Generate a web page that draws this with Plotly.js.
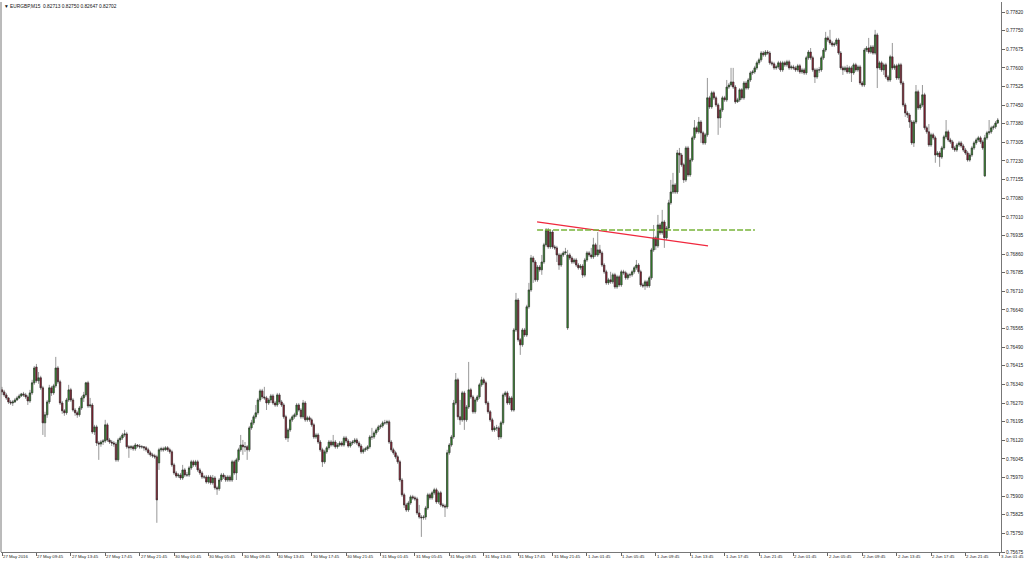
<!DOCTYPE html>
<html>
<head>
<meta charset="utf-8">
<script src="https://cdn.plot.ly/plotly-3.0.1.min.js"></script>
<style>
  html, body { margin: 0; padding: 0; background: #fff; }
  #chart { width: 1024px; height: 561px; }
</style>
</head>
<body>
<div id="chart"></div>
<script>
// EURGBP M15 bars, prices in points (1 point = 0.00001), one row = 16 bars = 4 hours
const openPts = [
  76319,76311,76299,76287,76271,76267,76271,76279,76287,76295,76303,76299,76291,76275,76307,76347,
  76410,76355,76367,76327,76188,76220,76271,76327,76307,76335,76406,76351,76267,76236,76228,76279,
  76319,76279,76239,76228,76220,76247,76287,76299,76347,76255,76259,76152,76172,76108,76104,76112,
  76116,76180,76120,76112,76108,76104,76041,76120,76128,76140,76144,76093,76089,76093,76085,76100,
  76096,76093,76093,76089,76081,76069,76061,76057,76053,76029,76081,76085,76081,76089,76081,76073,
  76021,75989,75977,75981,75969,76001,75981,75981,76009,76033,76021,76033,76001,75989,75973,75973,
  75953,75973,75950,75969,75930,75926,75961,75981,75973,75961,75973,75961,76033,75989,76041,76081,
  76100,76093,76093,76081,76168,76188,76212,76228,76279,76315,76291,76287,76267,76279,76295,76267,
  76259,76299,76271,76259,76212,76128,76160,76200,76212,76220,76259,76239,76212,76267,76200,76208,
  76200,76180,76132,76140,76112,76081,76033,76073,76089,76112,76100,76112,76093,76100,76108,76100,
  76128,76116,76096,76108,76112,76120,76108,76096,76073,76081,76085,76093,76132,76132,76148,76160,
  76172,76176,76188,76188,76192,76112,76081,76069,76053,76033,75961,75902,75862,75842,75870,75894,
  75890,75886,75830,75814,75811,75814,75850,75902,75890,75910,75922,75874,75910,75862,75858,75854,
  76069,76100,76132,76267,76359,76212,76200,76307,76200,76251,76319,76291,76232,76279,76291,76339,
  76359,76347,76267,76232,76200,76160,76168,76168,76132,76188,76299,76307,76267,76287,76239,76557,
  76676,76518,76498,76557,76537,76649,76716,76843,76827,76756,76807,76796,76827,76895,76954,76887,
  76946,76887,76883,76855,76815,76855,76863,76565,76855,76843,76827,76835,76815,76804,76811,76775,
  76835,76863,76855,76847,76895,76855,76875,76863,76815,76788,76744,76756,76748,76776,76728,76768,
  76736,76788,76784,76764,76776,76776,76788,76804,76815,76788,76736,76732,76748,76732,76764,76875,
  76923,76891,76974,76943,76986,76923,76962,77062,77105,77133,77105,77260,77252,77213,77153,77280,
  77173,77232,77320,77360,77344,77383,77340,77300,77332,77479,77443,77499,77479,77451,77399,77431,
  77479,77471,77522,77530,77542,77522,77463,77471,77511,77479,77538,77518,77550,77578,77582,77598,
  77618,77630,77657,77650,77661,77657,77618,77614,77598,77602,77618,77590,77618,77610,77622,77598,
  77602,77598,77590,77606,77582,77590,77578,77638,77661,77638,77590,77562,77590,77590,77638,77669,
  77717,77709,77697,77689,77693,77709,77657,77598,77590,77598,77582,77598,77578,77610,77590,77602,
  77538,77530,77669,77677,77661,77681,77657,77729,77598,77618,77590,77610,77562,77550,77642,77598,
  77606,77558,77610,77538,77451,77419,77411,77383,77300,77383,77503,77439,77451,77491,77360,77344,
  77292,77332,77320,77252,77260,77244,77280,77324,77344,77312,77304,77280,77272,77292,77300,77288,
  77272,77260,77232,77252,77280,77300,77312,77320,77304,77169,77320,77340,77344,77360,77364,77379
];
const highPts = [
  76331,76319,76307,76291,76279,76279,76287,76295,76303,76307,76311,76307,76299,76319,76359,76414,
  76422,76390,76375,76335,76232,76279,76339,76335,76343,76450,76414,76359,76275,76243,76287,76339,
  76327,76287,76247,76236,76255,76295,76311,76351,76355,76287,76267,76180,76180,76116,76120,76124,
  76200,76188,76128,76120,76116,76112,76128,76136,76148,76160,76152,76100,76100,76100,76108,76104,
  76104,76100,76096,76096,76089,76077,76069,76065,76061,76089,76093,76093,76096,76096,76089,76081,
  76029,75997,75989,75989,76021,76009,75993,76017,76041,76041,76041,76041,76009,75997,75981,75981,
  75981,75981,75981,75977,75938,75969,75989,75989,75981,75981,75981,76041,76041,76049,76089,76140,
  76120,76112,76100,76176,76200,76220,76259,76287,76323,76323,76331,76295,76287,76303,76303,76275,
  76307,76307,76279,76267,76220,76168,76208,76220,76228,76267,76267,76247,76279,76275,76216,76216,
  76208,76188,76148,76148,76120,76089,76081,76096,76120,76120,76140,76120,76108,76116,76116,76136,
  76136,76124,76116,76120,76128,76128,76116,76104,76089,76093,76100,76140,76168,76156,76168,76180,
  76184,76196,76200,76200,76200,76120,76089,76077,76061,76041,75969,75910,75870,75878,75902,75902,
  75898,75894,75862,75822,75822,75858,75910,75910,75918,75930,75930,75918,75918,75870,75866,76081,
  76108,76140,76279,76386,76367,76279,76315,76315,76259,76430,76327,76299,76287,76299,76347,76371,
  76367,76355,76275,76239,76208,76176,76180,76176,76196,76307,76315,76315,76295,76295,76565,76704,
  76684,76525,76565,76565,76657,76744,76855,76851,76835,76815,76815,76855,76903,76962,76962,76954,
  76954,76895,76891,76863,76863,76871,76883,76875,76863,76851,76843,76843,76823,76819,76819,76843,
  76871,76871,76883,76923,76903,76946,76895,76871,76823,76796,76764,76788,76784,76784,76776,76776,
  76796,76796,76792,76784,76784,76796,76811,76835,76823,76796,76744,76756,76756,76772,76883,76974,
  76931,77014,76982,77034,76994,76970,77074,77153,77181,77141,77272,77280,77260,77221,77288,77288,
  77240,77328,77391,77368,77403,77391,77348,77340,77558,77487,77507,77507,77487,77459,77439,77487,
  77487,77550,77538,77598,77598,77530,77479,77518,77518,77546,77546,77558,77586,77590,77606,77626,
  77638,77665,77665,77669,77669,77665,77626,77622,77610,77626,77626,77626,77626,77630,77630,77610,
  77610,77606,77614,77614,77598,77598,77646,77669,77677,77646,77598,77598,77602,77646,77677,77741,
  77725,77749,77705,77701,77717,77717,77665,77606,77606,77610,77606,77606,77618,77618,77610,77610,
  77546,77677,77685,77717,77689,77689,77749,77737,77626,77626,77618,77618,77570,77650,77697,77614,
  77614,77618,77618,77546,77459,77427,77419,77391,77391,77530,77511,77459,77530,77499,77368,77375,
  77340,77340,77328,77268,77268,77288,77332,77391,77352,77320,77312,77288,77300,77308,77308,77296,
  77280,77268,77260,77288,77308,77320,77328,77328,77312,77332,77348,77391,77368,77372,77387,77399
];
const lowPts = [
  76299,76291,76279,76263,76259,76255,76267,76275,76283,76291,76291,76283,76259,76267,76299,76339,
  76347,76343,76319,76140,76132,76208,76263,76295,76299,76327,76343,76259,76224,76216,76220,76271,
  76271,76232,76216,76208,76212,76239,76271,76291,76247,76247,76144,76140,76096,76041,76093,76100,
  76108,76112,76104,76096,76093,76033,76033,76108,76120,76132,76085,76049,76081,76077,76077,76089,
  76085,76085,76077,76073,76061,76053,76049,76045,75791,76001,76073,76073,76077,76073,76065,76013,
  75981,75969,75969,75961,75961,75973,75973,75973,76001,76013,76013,75993,75981,75965,75965,75946,
  75946,75942,75942,75922,75902,75918,75953,75965,75953,75953,75953,75953,75981,75961,76033,76073,
  76061,76073,76041,76073,76160,76180,76204,76220,76271,76283,76279,76239,76259,76267,76259,76251,
  76251,76263,76251,76204,76120,76112,76152,76192,76204,76212,76232,76204,76204,76192,76192,76192,
  76172,76124,76124,76104,76073,76013,76025,76065,76081,76093,76093,76085,76085,76093,76093,76093,
  76108,76089,76089,76100,76104,76100,76089,76065,76065,76073,76077,76085,76120,76124,76140,76152,
  76164,76168,76180,76180,76104,76073,76061,76045,76025,75953,75894,75850,75834,75834,75862,75882,
  75878,75822,75807,75735,75803,75803,75842,75882,75882,75902,75866,75866,75854,75850,75814,75846,
  76061,76093,76124,76259,76200,76180,76192,76160,76192,76243,76283,76224,76224,76271,76283,76331,
  76339,76259,76224,76192,76152,76152,76156,76120,76124,76180,76291,76259,76259,76232,76232,76549,
  76510,76458,76490,76529,76529,76641,76708,76744,76748,76748,76788,76776,76819,76887,76879,76879,
  76879,76875,76827,76796,76807,76847,76855,76557,76835,76819,76819,76807,76796,76796,76764,76767,
  76827,76847,76839,76839,76847,76847,76855,76807,76780,76736,76736,76740,76740,76720,76720,76728,
  76728,76776,76756,76756,76764,76768,76780,76796,76780,76728,76724,76716,76724,76724,76756,76867,
  76875,76883,76935,76935,76883,76915,76954,77054,77097,77097,77097,77181,77205,77141,77145,77165,
  77165,77225,77312,77336,77336,77300,77292,77292,77324,77435,77435,77471,77443,77332,77360,77423,
  77463,77463,77514,77522,77514,77455,77459,77463,77471,77471,77511,77511,77542,77570,77574,77590,
  77610,77622,77642,77642,77650,77610,77606,77590,77590,77594,77582,77582,77602,77602,77590,77590,
  77590,77582,77582,77574,77574,77570,77570,77630,77630,77582,77538,77554,77578,77582,77630,77661,
  77701,77689,77681,77681,77685,77650,77590,77570,77582,77574,77574,77542,77570,77582,77582,77530,
  77522,77522,77661,77654,77654,77650,77650,77518,77590,77582,77570,77554,77542,77542,77590,77590,
  77550,77550,77530,77443,77403,77399,77360,77292,77284,77375,77431,77431,77443,77352,77336,77284,
  77284,77312,77221,77244,77205,77236,77272,77316,77304,77296,77272,77264,77264,77284,77280,77264,
  77252,77225,77225,77244,77272,77292,77304,77296,77272,77165,77312,77332,77336,77352,77356,77375
];
const closePts = [
  76311,76299,76287,76271,76267,76271,76279,76287,76295,76303,76299,76291,76275,76307,76347,76406,
  76355,76367,76327,76188,76220,76271,76327,76307,76335,76406,76351,76267,76236,76228,76279,76319,
  76279,76239,76228,76220,76247,76287,76299,76347,76255,76259,76152,76172,76108,76104,76112,76116,
  76180,76120,76112,76108,76104,76041,76120,76128,76140,76144,76093,76089,76093,76085,76100,76096,
  76093,76093,76089,76081,76069,76061,76057,76053,75882,76081,76085,76081,76089,76081,76073,76021,
  75989,75977,75981,75969,76001,75981,75981,76009,76033,76021,76033,76001,75989,75973,75973,75953,
  75973,75950,75969,75930,75926,75961,75981,75973,75961,75973,75961,76033,75989,76041,76081,76100,
  76093,76093,76081,76168,76188,76212,76228,76279,76315,76291,76287,76267,76279,76295,76267,76259,
  76299,76271,76259,76212,76128,76160,76200,76212,76220,76259,76239,76212,76267,76200,76208,76200,
  76180,76132,76140,76112,76081,76033,76073,76089,76112,76100,76112,76093,76100,76108,76100,76128,
  76116,76096,76108,76112,76120,76108,76096,76073,76081,76085,76093,76132,76132,76148,76160,76172,
  76176,76188,76188,76192,76112,76081,76069,76053,76033,75961,75902,75862,75842,75870,75894,75890,
  75886,75830,75814,75811,75814,75850,75902,75890,75910,75922,75874,75910,75862,75858,75854,76069,
  76100,76132,76267,76359,76212,76200,76307,76200,76251,76319,76291,76232,76279,76291,76339,76359,
  76347,76267,76232,76200,76160,76168,76168,76132,76188,76299,76307,76267,76287,76239,76557,76676,
  76518,76498,76557,76537,76649,76716,76843,76827,76756,76807,76796,76827,76895,76954,76887,76946,
  76887,76883,76855,76815,76855,76863,76867,76855,76843,76827,76835,76815,76804,76811,76775,76835,
  76863,76855,76847,76895,76855,76875,76863,76815,76788,76744,76756,76748,76776,76728,76768,76736,
  76788,76784,76764,76776,76776,76788,76804,76815,76788,76736,76732,76748,76732,76764,76875,76923,
  76891,76974,76943,76986,76923,76962,77062,77105,77133,77105,77260,77252,77213,77153,77280,77173,
  77232,77320,77360,77344,77383,77340,77300,77332,77479,77443,77499,77479,77451,77399,77431,77479,
  77471,77522,77530,77542,77522,77463,77471,77511,77479,77538,77518,77550,77578,77582,77598,77618,
  77630,77657,77650,77661,77657,77618,77614,77598,77602,77618,77590,77618,77610,77622,77598,77602,
  77598,77590,77606,77582,77590,77578,77638,77661,77638,77590,77562,77590,77590,77638,77669,77717,
  77709,77697,77689,77693,77709,77657,77598,77590,77598,77582,77598,77578,77610,77590,77602,77538,
  77530,77669,77677,77661,77681,77657,77729,77598,77618,77590,77610,77562,77550,77642,77598,77606,
  77558,77610,77538,77451,77419,77411,77383,77300,77383,77503,77439,77451,77491,77360,77344,77292,
  77332,77320,77252,77260,77244,77280,77324,77344,77312,77304,77280,77272,77292,77300,77288,77272,
  77260,77232,77252,77280,77300,77312,77320,77304,77280,77320,77340,77344,77360,77364,77379,77391
];

// one label every 16 bars
const xTickLabels = [
  '27 May 2016', '27 May 09:45', '27 May 13:45', '27 May 17:45', '27 May 21:45',
  '30 May 01:45', '30 May 05:45', '30 May 09:45', '30 May 13:45', '30 May 17:45', '30 May 21:45',
  '31 May 01:45', '31 May 05:45', '31 May 09:45', '31 May 13:45', '31 May 17:45', '31 May 21:45',
  '1 Jun 01:45', '1 Jun 05:45', '1 Jun 09:45', '1 Jun 13:45', '1 Jun 17:45', '1 Jun 21:45',
  '2 Jun 01:45', '2 Jun 05:45', '2 Jun 09:45', '2 Jun 13:45', '2 Jun 17:45', '2 Jun 21:45',
  '3 Jun 01:45'
];
// price scale labels, bottom to top
const yTickLabels = [
  '0.75675', '0.75750', '0.75825', '0.75900', '0.75970', '0.76045', '0.76120', '0.76195',
  '0.76270', '0.76340', '0.76415', '0.76490', '0.76565', '0.76640', '0.76710', '0.76785',
  '0.76860', '0.76935', '0.77010', '0.77080', '0.77155', '0.77230', '0.77305', '0.77380',
  '0.77450', '0.77525', '0.77600', '0.77675', '0.77750', '0.77820'
];

// drawn objects (bar index, points)
const trendIdx = [248.8, 328.3];
const trendPts = [76986, 76891];
const levelIdx = [248.8, 350.1];
const levelPts = [76954, 76954];

const headerText = '\u25BC EURGBP,M15 \u00a00.82713 0.82750 0.82647 0.82702';

const toPrice = v => v / 100000;
const barIdx = openPts.map((_, i) => i);
const tickIdx = xTickLabels.map((_, k) => k * 16);
const yLo = parseFloat(yTickLabels[0]);
const yHi = parseFloat(yTickLabels[yTickLabels.length - 1]);
const yStep = (yHi - yLo) / (yTickLabels.length - 1);
const yTickVals = yTickLabels.map((_, k) => yLo + k * yStep);
// top label sits 10px under the frame, labels are 540/29 px apart
const yTop = yHi + yStep * 10 / (540 / 29);

// wicks: gray, drawn under the bodies
const wicks = {
  type: 'candlestick',
  x: barIdx,
  open: openPts.map(toPrice),
  high: highPts.map(toPrice),
  low: lowPts.map(toPrice),
  close: closePts.map(toPrice),
  increasing: { line: { color: '#8c8c8c', width: 0.9 }, fillcolor: 'rgba(0,0,0,0)' },
  decreasing: { line: { color: '#8c8c8c', width: 0.9 }, fillcolor: 'rgba(0,0,0,0)' },
  whiskerwidth: 0,
  hoverinfo: 'skip'
};

// bodies only: high/low clipped to the body
const bodies = {
  type: 'candlestick',
  x: barIdx,
  open: openPts.map(toPrice),
  high: openPts.map((o, i) => toPrice(Math.max(o, closePts[i]))),
  low: openPts.map((o, i) => toPrice(Math.min(o, closePts[i]))),
  close: closePts.map(toPrice),
  increasing: { line: { color: '#2a2a2a', width: 0.5 }, fillcolor: '#34922a' },
  decreasing: { line: { color: '#2a2a2a', width: 0.5 }, fillcolor: '#921a2e' },
  whiskerwidth: 0,
  hoverinfo: 'skip'
};

const trend = {
  type: 'scatter', mode: 'lines',
  x: trendIdx, y: trendPts.map(toPrice),
  line: { color: '#f0283e', width: 1.3 },
  hoverinfo: 'skip'
};

const level = {
  type: 'scatter', mode: 'lines',
  x: levelIdx, y: levelPts.map(toPrice),
  line: { color: '#78b43a', width: 1.6, dash: '6px,2px' },
  hoverinfo: 'skip'
};

const labelNotes = xTickLabels.map((t, k) => ({
  x: tickIdx[k], y: 0, xref: 'x', yref: 'paper',
  text: t, showarrow: false, xanchor: 'left', yanchor: 'top',
  yshift: -1, borderpad: 0,
  font: { size: 4.3, color: '#222' }
}));

const layout = {
  width: 1024,
  height: 561,
  margin: { l: 1, r: 23, t: 2, b: 9 },
  paper_bgcolor: '#ffffff',
  plot_bgcolor: '#ffffff',
  showlegend: false,
  boxgap: 0.12,
  font: { family: 'Liberation Sans, Arial, sans-serif', size: 5, color: '#222' },
  xaxis: {
    type: 'linear',
    range: [-0.465, 464.53],
    rangeslider: { visible: false },
    showgrid: false, zeroline: false,
    showline: true, linecolor: '#777', linewidth: 1,
    tickvals: tickIdx, ticks: 'outside', ticklen: 3, tickcolor: '#666',
    showticklabels: false
  },
  yaxis: {
    side: 'right',
    range: [yLo, yTop],
    showgrid: false, zeroline: false,
    showline: true, linecolor: '#777', linewidth: 1,
    tickvals: yTickVals, ticktext: yTickLabels,
    ticks: 'outside', ticklen: 3, tickcolor: '#666',
    tickfont: { size: 4.8, color: '#222' }
  },
  shapes: [{
    type: 'line', xref: 'paper', yref: 'paper',
    x0: 0, x1: 0, y0: 0, y1: 1,
    line: { color: '#777', width: 1 }
  }],
  annotations: [{
    xref: 'paper', yref: 'paper', x: 0, y: 1,
    xanchor: 'left', yanchor: 'top', xshift: 2, yshift: -1, borderpad: 0,
    text: headerText, showarrow: false,
    font: { size: 4.8, color: '#111' }
  }].concat(labelNotes)
};

Plotly.newPlot('chart', [wicks, bodies, trend, level], layout, { staticPlot: true, displayModeBar: false });
</script>
</body>
</html>
